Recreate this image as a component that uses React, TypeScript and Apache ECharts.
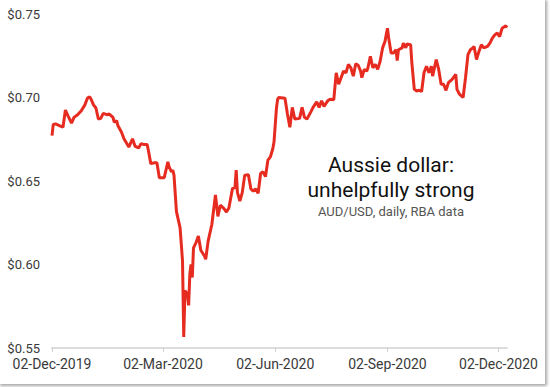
import React, { useEffect, useRef } from "react";
import * as echarts from "echarts";

const dates: string[] = [
  "2019-12-02", "2019-12-03", "2019-12-05", "2019-12-08", "2019-12-11", "2019-12-13", "2019-12-15", "2019-12-18",
  "2019-12-20", "2019-12-23", "2019-12-26", "2019-12-29", "2019-12-31", "2020-01-02", "2020-01-03", "2020-01-05",
  "2020-01-07", "2020-01-09", "2020-01-11", "2020-01-13", "2020-01-16", "2020-01-18", "2020-01-21", "2020-01-22",
  "2020-01-24", "2020-01-25", "2020-01-28", "2020-01-30", "2020-02-03", "2020-02-06", "2020-02-08", "2020-02-11",
  "2020-02-13", "2020-02-15", "2020-02-18", "2020-02-19", "2020-02-21", "2020-02-24", "2020-02-26", "2020-02-28",
  "2020-03-03", "2020-03-06", "2020-03-07", "2020-03-09", "2020-03-10", "2020-03-11", "2020-03-13", "2020-03-16",
  "2020-03-17", "2020-03-18", "2020-03-19", "2020-03-20", "2020-03-22", "2020-03-23", "2020-03-24", "2020-03-25",
  "2020-03-26", "2020-03-27", "2020-03-29", "2020-03-31", "2020-04-02", "2020-04-05", "2020-04-06", "2020-04-08",
  "2020-04-11", "2020-04-14", "2020-04-16", "2020-04-18", "2020-04-21", "2020-04-23", "2020-04-25", "2020-04-28",
  "2020-04-30", "2020-05-01", "2020-05-02", "2020-05-04", "2020-05-06", "2020-05-08", "2020-05-11", "2020-05-13",
  "2020-05-15", "2020-05-17", "2020-05-19", "2020-05-21", "2020-05-23", "2020-05-25", "2020-05-27", "2020-05-29",
  "2020-05-31", "2020-06-01", "2020-06-03", "2020-06-04", "2020-06-05", "2020-06-10", "2020-06-12", "2020-06-14",
  "2020-06-16", "2020-06-18", "2020-06-22", "2020-06-24", "2020-06-26", "2020-06-28", "2020-07-01", "2020-07-03",
  "2020-07-06", "2020-07-08", "2020-07-10", "2020-07-12", "2020-07-15", "2020-07-17", "2020-07-20", "2020-07-22",
  "2020-07-24", "2020-07-26", "2020-07-28", "2020-07-30", "2020-08-01", "2020-08-03", "2020-08-05", "2020-08-07",
  "2020-08-09", "2020-08-11", "2020-08-12", "2020-08-14", "2020-08-16", "2020-08-17", "2020-08-19", "2020-08-21",
  "2020-08-23", "2020-08-25", "2020-08-27", "2020-08-29", "2020-08-31", "2020-09-02", "2020-09-03", "2020-09-05",
  "2020-09-07", "2020-09-09", "2020-09-10", "2020-09-11", "2020-09-14", "2020-09-15", "2020-09-17", "2020-09-18",
  "2020-09-21", "2020-09-22", "2020-09-24", "2020-09-26", "2020-09-28", "2020-09-30", "2020-10-02", "2020-10-04",
  "2020-10-06", "2020-10-08", "2020-10-09", "2020-10-12", "2020-10-14", "2020-10-16", "2020-10-18", "2020-10-20",
  "2020-10-22", "2020-10-25", "2020-10-28", "2020-10-29", "2020-10-31", "2020-11-03", "2020-11-05", "2020-11-07",
  "2020-11-09", "2020-11-11", "2020-11-12", "2020-11-14", "2020-11-16", "2020-11-18", "2020-11-20", "2020-11-23",
  "2020-11-25", "2020-11-27", "2020-11-29", "2020-12-01", "2020-12-03", "2020-12-05", "2020-12-08", "2020-12-09",
];

const audUsd: number[] = [
  0.6772, 0.6838, 0.6842, 0.6832, 0.6822, 0.6925, 0.6891, 0.6846,
  0.6881, 0.6897, 0.6921, 0.6956, 0.6996, 0.7004, 0.6990, 0.6956,
  0.6937, 0.6871, 0.6875, 0.6905, 0.6897, 0.6901, 0.6881, 0.6852,
  0.6861, 0.6832, 0.6792, 0.6753, 0.6703, 0.6753, 0.6709, 0.6698,
  0.6723, 0.6719, 0.6719, 0.6683, 0.6604, 0.6609, 0.6609, 0.6520,
  0.6520, 0.6615, 0.6585, 0.6555, 0.6565, 0.6535, 0.6318, 0.6219,
  0.6120, 0.6021, 0.5566, 0.5843, 0.5823, 0.5755, 0.5942, 0.6001,
  0.5922, 0.6100, 0.6130, 0.6170, 0.6085, 0.6051, 0.6031, 0.6140,
  0.6238, 0.6416, 0.6288, 0.6355, 0.6335, 0.6314, 0.6338, 0.6456,
  0.6460, 0.6565, 0.6432, 0.6379, 0.6432, 0.6535, 0.6537, 0.6453,
  0.6440, 0.6452, 0.6426, 0.6545, 0.6555, 0.6526, 0.6625, 0.6644,
  0.6693, 0.6733, 0.6937, 0.6990, 0.7000, 0.6996, 0.6901, 0.6822,
  0.6941, 0.6871, 0.6875, 0.6941, 0.6881, 0.6871, 0.6911, 0.6941,
  0.6974, 0.6941, 0.6980, 0.6947, 0.6980, 0.6990, 0.6986, 0.7148,
  0.7079, 0.7119, 0.7158, 0.7148, 0.7198, 0.7178, 0.7128, 0.7202,
  0.7193, 0.7158, 0.7119, 0.7168, 0.7158, 0.7178, 0.7247, 0.7178,
  0.7198, 0.7168, 0.7217, 0.7297, 0.7336, 0.7415, 0.7356, 0.7267,
  0.7267, 0.7286, 0.7221, 0.7286, 0.7297, 0.7326, 0.7297, 0.7320,
  0.7316, 0.7208, 0.7049, 0.7039, 0.7043, 0.7036, 0.7150, 0.7187,
  0.7148, 0.7187, 0.7128, 0.7227, 0.7168, 0.7079, 0.7079, 0.7043,
  0.7089, 0.7109, 0.7138, 0.7049, 0.7020, 0.7000, 0.7119, 0.7257,
  0.7286, 0.7297, 0.7306, 0.7227, 0.7276, 0.7316, 0.7297, 0.7306,
  0.7326, 0.7356, 0.7375, 0.7386, 0.7365, 0.7415, 0.7429, 0.7419,
];

const tickDates: string[] = ["2019-12-02", "2020-03-02", "2020-06-02", "2020-09-02", "2020-12-02"];
const tickLabels: string[] = ["02-Dec-2019", "02-Mar-2020", "02-Jun-2020", "02-Sep-2020", "02-Dec-2020"];
const axisEndDate = "2020-12-09";

const yTicks: number[] = [0.55, 0.6, 0.65, 0.7, 0.75];

const titleLines: string[] = ["Aussie dollar:", "unhelpfully strong"];
const subtitle = "AUD/USD, daily, RBA data";

const DAY = 86400000;
const startMs = Date.parse(tickDates[0] + "T00:00:00Z");
const toDay = (d: string) => Math.round((Date.parse(d + "T00:00:00Z") - startMs) / DAY);

const FONT = "Roboto, 'Noto Sans', sans-serif";

export default function App() {
  const ref = useRef<HTMLDivElement>(null);

  useEffect(() => {
    if (!ref.current) return;
    const chart = echarts.init(ref.current, null, { renderer: "svg" });
    const tickDays = tickDates.map(toDay);
    const seriesData = dates.map((d, i) => [toDay(d), audUsd[i]]);

    chart.setOption({
      animation: false,
      backgroundColor: "#ffffff",
      grid: { left: 52, right: 38, top: 14, bottom: 36, containLabel: false },
      xAxis: {
        type: "value",
        min: 0,
        max: toDay(axisEndDate),
        splitLine: { show: false },
        axisLine: { show: true, lineStyle: { color: "#dcdcdc", width: 2 } },
        axisTick: {
          show: true,
          customValues: tickDays,
          length: 4,
          lineStyle: { color: "#cfcfcf", width: 1 },
        },
        axisLabel: {
          customValues: tickDays,
          margin: 9,
          color: "#3a3a3a",
          fontFamily: FONT,
          fontSize: 14,
          formatter: (v: number) => {
            const idx = tickDays.indexOf(Math.round(v));
            return idx >= 0 ? tickLabels[idx] : "";
          },
        },
      },
      yAxis: {
        type: "value",
        min: yTicks[0],
        max: yTicks[yTicks.length - 1],
        splitLine: { show: false },
        axisLine: { show: false },
        axisTick: { show: false },
        axisLabel: {
          customValues: yTicks,
          margin: 12,
          color: "#3a3a3a",
          fontFamily: FONT,
          fontSize: 13,
          formatter: (v: number) => "$" + v.toFixed(2),
        },
      },
      series: [
        {
          type: "line",
          data: seriesData,
          showSymbol: false,
          symbol: "none",
          lineStyle: { color: "#e62b20", width: 3 },
          itemStyle: { color: "#e62b20" },
        },
      ],
      graphic: [
        {
          type: "text",
          x: 391,
          y: 165,
          style: {
            text: titleLines[0],
            fill: "#111",
            font: `21px ${FONT}`,
            textAlign: "center",
            textVerticalAlign: "middle",
          },
        },
        {
          type: "text",
          x: 391,
          y: 190,
          style: {
            text: titleLines[1],
            fill: "#111",
            font: `21px ${FONT}`,
            textAlign: "center",
            textVerticalAlign: "middle",
          },
        },
        {
          type: "text",
          x: 391,
          y: 211,
          style: {
            text: subtitle,
            fill: "#555",
            font: `13px ${FONT}`,
            textAlign: "center",
            textVerticalAlign: "middle",
          },
        },
      ],
    });
    return () => chart.dispose();
  }, []);

  return (
    <div style={{ position: "absolute", left: 0, top: 0, width: 550, height: 387, background: "#fff" }}>
      <div
        style={{
          position: "absolute",
          left: 0,
          top: 0,
          width: 545,
          height: 384,
          background: "#fff",
          boxShadow: "1px 1px 3px 1px rgba(0,0,0,0.35)",
        }}
      >
        <div ref={ref} style={{ width: 545, height: 384 }} />
      </div>
    </div>
  );
}
